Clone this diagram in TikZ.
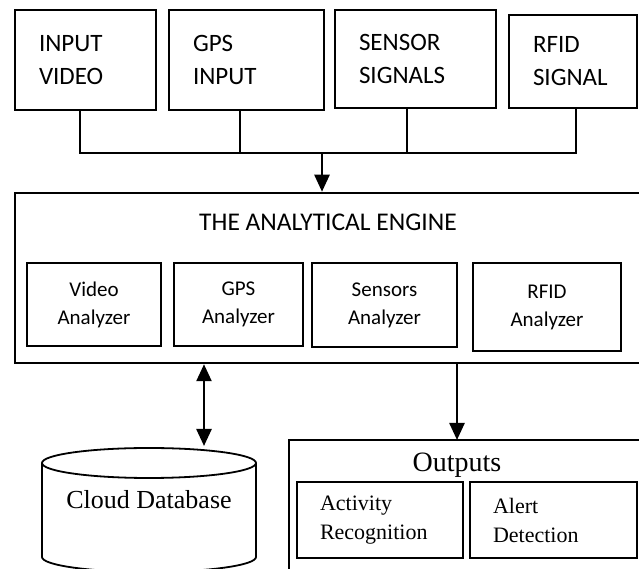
\documentclass[tikz,border=0pt]{standalone}
\usepackage{fontspec}
\setmainfont{Carlito}
\newfontfamily\timesfont{Liberation Serif}
\usetikzlibrary{arrows.meta}

\tikzstyle{source}=[rectangle, draw, line width=2.5pt, inner xsep=24pt,
                    align=left, font=\fontsize{25}{33}\selectfont]
\tikzstyle{analyzer}=[rectangle, draw, line width=2pt,
                      align=center, font=\fontsize{21}{28}\selectfont]
\tikzstyle{result}=[rectangle, draw, line width=2.2pt, inner xsep=23pt,
                    align=left, font=\timesfont\fontsize{22}{29}\selectfont]
\tikzstyle{link}=[line width=2.5pt]

\begin{document}
\begin{tikzpicture}[x=1pt, y=1pt, >={Triangle[length=17pt, width=15pt]}]
  \useasboundingbox (0,0) rectangle (639,569);

  %%%%%%%%%%%%%%%%%%%%%%%%%%%%%%
  %%%%%%%%%%%%%%%%%%%%%%%%%%%%%%
  % system

  %%%%%%%%%%%%%%%%%%%%%%%%%%%%%%
  % nodes
  % inputs
  \node (video) at (85.5, 509) [source, minimum width=141pt, minimum height=100pt, text width=93pt] {INPUT\\VIDEO};

  \node (gps) at (246.5, 509) [source, minimum width=155pt, minimum height=100pt, text width=107pt] {GPS\\INPUT};

  \node (sensor) at (415.5, 510) [source, minimum width=161pt, minimum height=98pt, text width=113pt] {SENSOR\\SIGNALS};

  \node (rfid) at (573, 507.5) [source, minimum width=128pt, minimum height=93pt, text width=80pt] {RFID\\SIGNAL};

  \coordinate (bus) at (322, 416);

  % engine
  \node (engine) at (332.5, 291) [rectangle, draw, line width=2.5pt, minimum width=635pt, minimum height=170pt] {};
  \node (title) at (328, 347) [font=\fontsize{25.5}{30}\selectfont] {THE ANALYTICAL ENGINE};

  \node (video_a) at (94, 264.5) [analyzer, minimum width=134pt, minimum height=83pt] {Video\\Analyzer};

  \node (gps_a) at (238.5, 264.5) [analyzer, minimum width=129pt, minimum height=83pt] {GPS\\Analyzer};

  \node (sensor_a) at (384.5, 264) [analyzer, minimum width=145pt, minimum height=84pt] {Sensors\\Analyzer};

  \node (rfid_a) at (547, 262) [analyzer, minimum width=148pt, minimum height=88pt] {RFID\\Analyzer};

  % database
  \draw[line width=1.8pt] (149, 106) ellipse [x radius=107, y radius=15];
  \draw[line width=1.8pt] (42, 106) -- (42, 12) arc [start angle=180, end angle=360, x radius=107, y radius=15] -- (256, 106);
  \node (db) at (149, 69) [font=\timesfont\fontsize{26}{30}\selectfont] {Cloud Database};
  \coordinate (db_top) at (204, 123);

  % outputs
  \draw[line width=2.2pt] (289, 129) rectangle (660, -40);
  \node (outputs) at (457, 104) [font=\timesfont\fontsize{28}{32}\selectfont] {Outputs};
  \coordinate (out_top) at (457, 129);

  \node (activity) at (380, 49) [result, minimum width=166pt, minimum height=76pt, text width=120pt] {Activity\\Recognition};

  \node (alert) at (553.5, 49) [result, minimum width=167pt, minimum height=76pt, text width=121pt] {Alert\\Detection};

  %%%%%%%%%%%%%%%%%%%%%%%%%%%%%%
  % links
  \draw [link] ([xshift=-5.5pt]video.south) |- (bus) -| ([xshift=3pt]rfid.south);

  \draw [link] ([xshift=-6.5pt]gps.south) -- ++(0, -43);

  \draw [link] ([xshift=-8.5pt]sensor.south) -- ++(0, -43);

  \draw [link, ->] (bus) -- (bus |- engine.north);

  \draw [link, <->] (engine.south -| db_top) -- (db_top);

  \draw [link, ->] (engine.south -| out_top) -- (out_top);

\end{tikzpicture}
\end{document}
